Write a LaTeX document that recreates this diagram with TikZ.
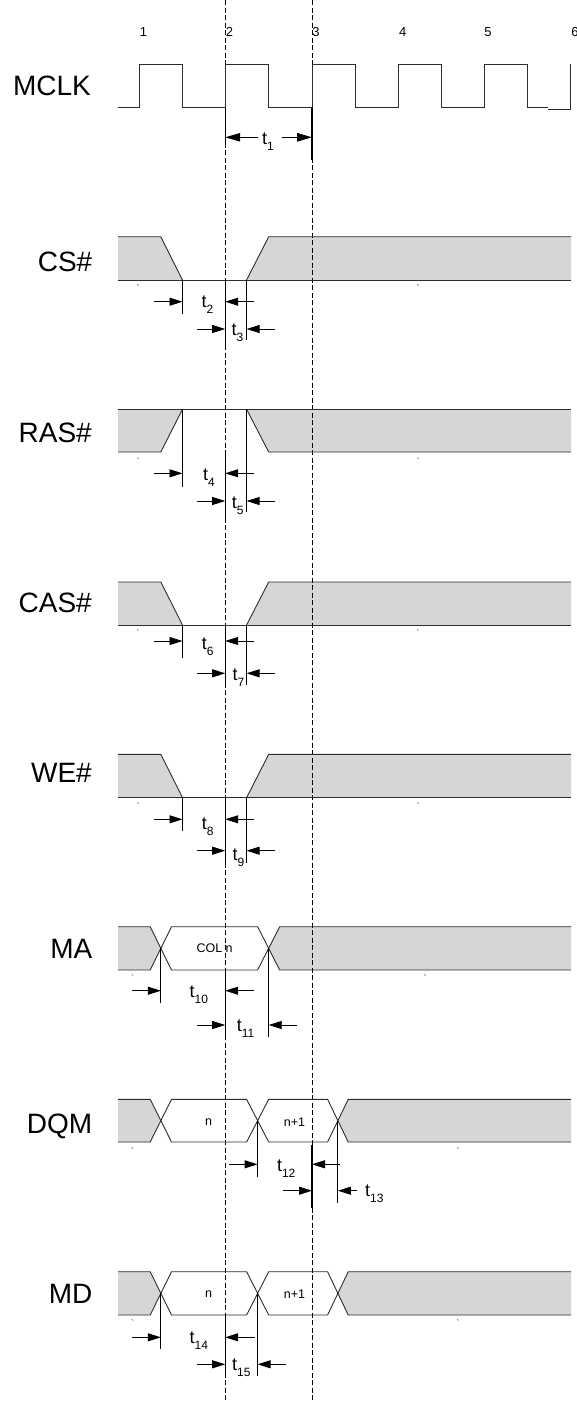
\documentclass[tikz,border=0pt]{standalone}
\usepackage{fontspec}
\setmainfont{Liberation Sans}
\usetikzlibrary{arrows.meta}
\definecolor{busgray}{RGB}{214,214,214}
\definecolor{ln}{RGB}{45,45,45}
\newcommand{\tsub}[1]{t\raisebox{-6pt}{\fontsize{12}{12}\selectfont #1}}
\begin{document}
\begin{tikzpicture}[x=1pt,y=-1pt,
  sig/.style={draw=ln, line width=0.9pt},
  ext/.style={draw=black, line width=0.9pt},
  extb/.style={draw=black, line width=1.3pt},
  dimarr/.style={draw=black, line width=0.8pt, -{Triangle[length=13pt,width=8pt]}},
  dimarrb/.style={draw=black, line width=0.8pt, -{Triangle[length=15pt,width=8.5pt]}},
  gridline/.style={draw=black, line width=0.8pt, dash pattern=on 5pt off 2.5pt},
  siglabel/.style={anchor=base east, inner sep=0pt, font=\fontsize{28}{30}\selectfont},
  num/.style={inner sep=0pt, font=\fontsize{13}{14}\selectfont},
  val/.style={inner sep=0pt, font=\fontsize{12.5}{14}\selectfont},
  tl/.style={anchor=base west, inner sep=0pt, font=\fontsize{18}{20}\selectfont},
  tick/.style={draw=black!60, line width=0.6pt},
]
\useasboundingbox (0,0) rectangle (577,1422);
\fill[white] (0,0) rectangle (577,1422);

% ---------- gray fills ----------
% CS#
\fill[busgray] (118,236.7) -- (160.8,236.7) -- (182.5,280) -- (118,280) -- cycle;
\fill[busgray] (246.6,280) -- (268.7,236.7) -- (571,236.7) -- (571,280) -- cycle;
% RAS#
\fill[busgray] (118,409.3) -- (182.5,409.3) -- (160.8,452) -- (118,452) -- cycle;
\fill[busgray] (246.6,409.3) -- (268.7,452) -- (571,452) -- (571,409.3) -- cycle;
% CAS#
\fill[busgray] (118,582) -- (160.8,582) -- (182.5,625) -- (118,625) -- cycle;
\fill[busgray] (246.6,625) -- (268.7,582) -- (571,582) -- (571,625) -- cycle;
% WE#
\fill[busgray] (118,754.3) -- (160.8,754.3) -- (182.5,797.7) -- (118,797.7) -- cycle;
\fill[busgray] (246.6,797.7) -- (268.7,754.3) -- (571,754.3) -- (571,797.7) -- cycle;
% MA
\fill[busgray] (118,926.7) -- (150.2,926.7) -- (160.8,948.3) -- (150.2,970) -- (118,970) -- cycle;
\fill[busgray] (268.7,948.3) -- (279.7,926.7) -- (571,926.7) -- (571,970) -- (279.7,970) -- cycle;
% DQM
\fill[busgray] (118,1099.3) -- (150.2,1099.3) -- (160.8,1120.7) -- (150.2,1142) -- (118,1142) -- cycle;
\fill[busgray] (337.9,1120.7) -- (348.2,1099.3) -- (571,1099.3) -- (571,1142) -- (348.2,1142) -- cycle;
% MD
\fill[busgray] (118,1271.7) -- (150.2,1271.7) -- (160.8,1293.3) -- (150.2,1315) -- (118,1315) -- cycle;
\fill[busgray] (337.9,1293.3) -- (348.2,1271.7) -- (571,1271.7) -- (571,1315) -- (348.2,1315) -- cycle;

% ---------- dashed clock references ----------
\draw[gridline] (225.2,0) -- (225.2,1400.7);
\draw[gridline] (312,0) -- (312,1400.7);

% ---------- clock ----------
\draw[sig] (118,107.7) -- (139,107.7) -- (139,64.3) -- (182.5,64.3) -- (182.5,107.7)
  -- (225.2,107.7) -- (225.2,64.3) -- (268.7,64.3) -- (268.7,107.7)
  -- (312,107.7) -- (312,64.3) -- (355,64.3) -- (355,107.7)
  -- (398,107.7) -- (398,64.3) -- (441,64.3) -- (441,107.7)
  -- (484,107.7) -- (484,64.3) -- (527,64.3) -- (527,107.7) -- (548,107.7);
\draw[sig] (548,109) -- (570,109) -- (570,64.3);
\node[num] (n1) at (143.5,32.3) {1};
\node[num] (n2) at (229.5,32.3) {2};
\node[num] (n3) at (316,32.3) {3};
\node[num] (n4) at (402.7,32.3) {4};
\node[num] (n5) at (488,32.3) {5};
\node[num] (n6) at (575,32.3) {6};

% ---------- signal outlines ----------
% CS#
\draw[sig] (118,236.7) -- (160.8,236.7) -- (182.5,280);
\draw[sig] (246.6,280) -- (268.7,236.7) -- (571,236.7);
\draw[sig] (118,280) -- (571,280);
% RAS#
\draw[sig] (118,452) -- (160.8,452) -- (182.5,409.3);
\draw[sig] (246.6,409.3) -- (268.7,452) -- (571,452);
\draw[sig] (118,409.3) -- (571,409.3);
% CAS#
\draw[sig] (118,582) -- (160.8,582) -- (182.5,625);
\draw[sig] (246.6,625) -- (268.7,582) -- (571,582);
\draw[sig] (118,625) -- (571,625);
% WE#
\draw[sig] (118,754.3) -- (160.8,754.3) -- (182.5,797.7);
\draw[sig] (246.6,797.7) -- (268.7,754.3) -- (571,754.3);
\draw[sig] (118,797.7) -- (571,797.7);
% MA
\draw[sig] (118,926.7) -- (150.2,926.7) -- (171.5,970) -- (257.6,970) -- (279.7,926.7) -- (571,926.7);
\draw[sig] (118,970) -- (150.2,970) -- (171.5,926.7) -- (257.6,926.7) -- (279.7,970) -- (571,970);
% DQM
\draw[sig] (118,1099.3) -- (150.2,1099.3) -- (171.5,1142) -- (246.6,1142) -- (268.7,1099.3) -- (327.6,1099.3) -- (348.2,1142) -- (571,1142);
\draw[sig] (118,1142) -- (150.2,1142) -- (171.5,1099.3) -- (246.6,1099.3) -- (268.7,1142) -- (327.6,1142) -- (348.2,1099.3) -- (571,1099.3);
% MD
\draw[sig] (118,1271.7) -- (150.2,1271.7) -- (171.5,1315) -- (246.6,1315) -- (268.7,1271.7) -- (327.6,1271.7) -- (348.2,1315) -- (571,1315);
\draw[sig] (118,1315) -- (150.2,1315) -- (171.5,1271.7) -- (246.6,1271.7) -- (268.7,1315) -- (327.6,1315) -- (348.2,1271.7) -- (571,1271.7);

% small tick marks
\foreach \x/\y in {138/285, 418/285, 138/458.3, 418/458.3, 138/630, 418/630, 138/803.3, 418/803.3,
                   132.5/975, 425/975, 132.5/1148, 458/1148, 132.5/1320, 458/1320}
  \draw[tick] (\x-0.8,\y-0.8) -- (\x+0.6,\y+0.6);

% ---------- value labels ----------
\node[val] (coln) at (214.6,948.3) {COL n};
\node[val] (dqmn) at (208.7,1122) {n};
\node[val] (dqmn1) at (294.4,1122) {n+1};
\node[val] (mdn) at (208.7,1294.5) {n};
\node[val] (mdn1) at (294.4,1294.5) {n+1};

% ---------- signal names ----------
\node[siglabel] (lmclk) at (91,95) {MCLK};
\node[siglabel] (lcs) at (92.5,271.7) {CS\#};
\node[siglabel] (lras) at (92,442.7) {RAS\#};
\node[siglabel] (lcas) at (92,612.7) {CAS\#};
\node[siglabel] (lwe) at (92,782.7) {WE\#};
\node[siglabel] (lma) at (92.5,958.3) {MA};
\node[siglabel] (ldqm) at (92.5,1133.3) {DQM};
\node[siglabel] (lmd) at (92.5,1303.3) {MD};

% ---------- t1 ----------
\draw[extb] (312,107.7) -- (312,160);
\draw[ext] (225.2,107.7) -- (225.2,146.7);
\draw[dimarrb] (257.6,137.3) -- (225.2,137.3);
\draw[dimarrb] (281.6,137.3) -- (312,137.3);
\node[tl] (t1) at (262,144) {\tsub{1}};

% ---------- CS#: t2, t3 ----------
\draw[ext] (182.5,280) -- (182.5,314.3);
\draw[ext] (246.6,280) -- (246.6,340);
\draw[extb] (225.2,280) -- (225.2,346.7);
\draw[dimarr] (154,301.7) -- (182.5,301.7);
\draw[dimarr] (254,301.7) -- (225.2,301.7);
\draw[dimarr] (197,329) -- (225.2,329);
\draw[dimarr] (275,329) -- (246.6,329);
\node[tl] (t2) at (201.5,307.3) {\tsub{2}};
\node[tl] (t3) at (231.5,335) {\tsub{3}};

% ---------- RAS#: t4, t5 ----------
\draw[ext] (182.5,409.3) -- (182.5,486.7);
\draw[ext] (246.6,409.3) -- (246.6,511.7);
\draw[extb] (225.2,452) -- (225.2,520);
\draw[dimarr] (154,473.3) -- (182.5,473.3);
\draw[dimarr] (254,473.3) -- (225.2,473.3);
\draw[dimarr] (197,501) -- (225.2,501);
\draw[dimarr] (275,501) -- (246.6,501);
\node[tl] (t4) at (203,480.7) {\tsub{4}};
\node[tl] (t5) at (231.7,508.3) {\tsub{5}};

% ---------- CAS#: t6, t7 ----------
\draw[ext] (182.5,625) -- (182.5,658.3);
\draw[ext] (246.6,625) -- (246.6,685);
\draw[extb] (225.2,625) -- (225.2,685);
\draw[dimarr] (154,641) -- (182.5,641);
\draw[dimarr] (254,641) -- (225.2,641);
\draw[dimarr] (197,673.3) -- (225.2,673.3);
\draw[dimarr] (275,673.3) -- (246.6,673.3);
\node[tl] (t6) at (201.7,649.5) {\tsub{6}};
\node[tl] (t7) at (232.3,680) {\tsub{7}};

% ---------- WE#: t8, t9 ----------
\draw[ext] (182.5,797.7) -- (182.5,830.7);
\draw[ext] (246.6,797.7) -- (246.6,863.3);
\draw[extb] (225.2,797.7) -- (225.2,863.3);
\draw[dimarr] (154,819.3) -- (182.5,819.3);
\draw[dimarr] (254,819.3) -- (225.2,819.3);
\draw[dimarr] (197,850.7) -- (225.2,850.7);
\draw[dimarr] (275,850.7) -- (246.6,850.7);
\node[tl] (t8) at (201.7,829.3) {\tsub{8}};
\node[tl] (t9) at (232.3,860) {\tsub{9}};

% ---------- MA: t10, t11 ----------
\draw[ext] (160.8,948.3) -- (160.8,1003.3);
\draw[ext] (268.7,948.3) -- (268.7,1036.7);
\draw[extb] (225.2,970) -- (225.2,1036.7);
\draw[dimarr] (131.8,990.7) -- (160.8,990.7);
\draw[dimarr] (254,990.7) -- (225.2,990.7);
\draw[dimarr] (197,1025) -- (225.2,1025);
\draw[dimarr] (297.4,1025) -- (268.7,1025);
\node[tl] (t10) at (189.5,997.3) {\tsub{10}};
\node[tl] (t11) at (236.7,1031.7) {\tsub{11}};

% ---------- DQM: t12, t13 ----------
\draw[ext] (257.6,1120.7) -- (257.6,1176.7);
\draw[ext] (337.9,1120.7) -- (337.9,1203.3);
\draw[extb] (312,1145) -- (312,1208.3);
\draw[dimarr] (229,1164.3) -- (257.6,1164.3);
\draw[dimarr] (340.4,1164.3) -- (312,1164.3);
\draw[dimarr] (283.4,1190.7) -- (312,1190.7);
\draw[dimarr] (357,1190.7) -- (337.9,1190.7);
\node[tl] (t12) at (276.8,1171.7) {\tsub{12}};
\node[tl] (t13) at (365,1196.7) {\tsub{13}};

% ---------- MD: t14, t15 ----------
\draw[ext] (160.8,1293.3) -- (160.8,1349.3);
\draw[ext] (257.6,1293.3) -- (257.6,1376);
\draw[extb] (225.2,1315) -- (225.2,1376);
\draw[dimarr] (131.8,1337.3) -- (160.8,1337.3);
\draw[dimarr] (254.7,1337.3) -- (225.2,1337.3);
\draw[dimarr] (197,1364.3) -- (225.2,1364.3);
\draw[dimarr] (286.3,1364.3) -- (257.6,1364.3);
\node[tl] (t14) at (189.5,1343.3) {\tsub{14}};
\node[tl] (t15) at (231.9,1370.7) {\tsub{15}};
\end{tikzpicture}
\end{document}
